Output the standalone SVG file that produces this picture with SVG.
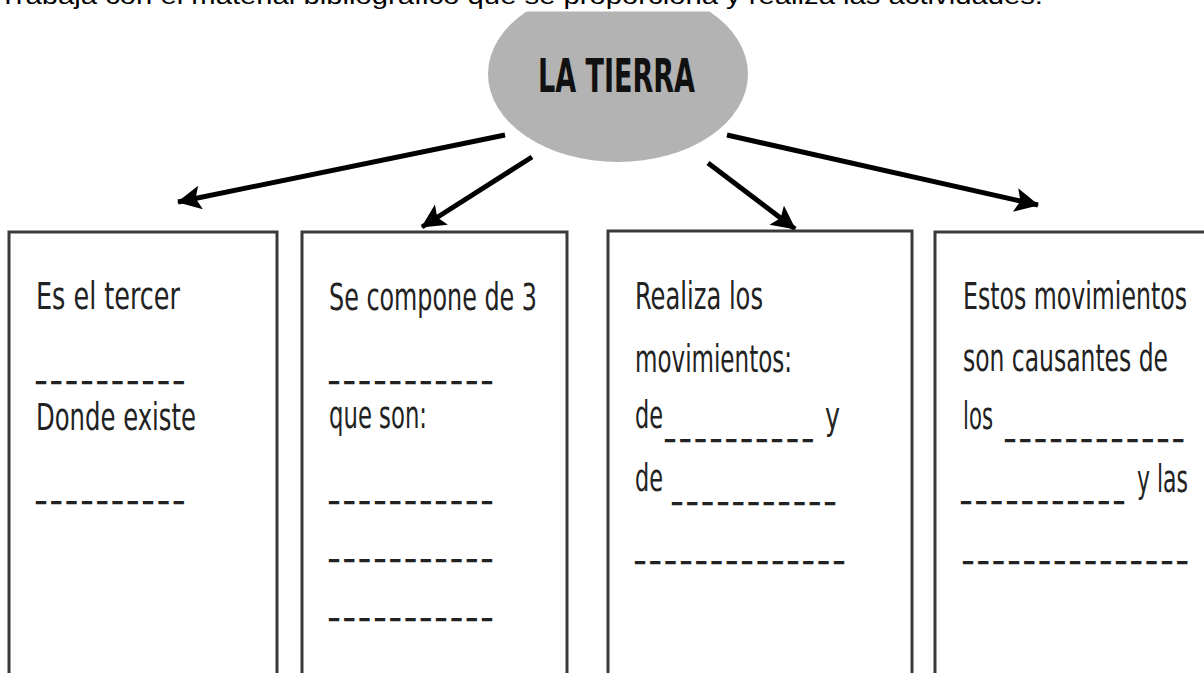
<svg xmlns="http://www.w3.org/2000/svg" width="1204" height="673" viewBox="0 0 1204 673">
<style>
.t{font-family:"DejaVu Sans Condensed","DejaVu Sans",sans-serif;font-size:37px;fill:#222}
.u{font-family:"DejaVu Sans",sans-serif;font-size:16px;fill:#222;stroke:#222;stroke-width:2;letter-spacing:7.3px}
.box{fill:#fff;stroke:#3a3a3a;stroke-width:3}
.arr{stroke:#000;stroke-width:5;fill:none;marker-end:url(#ah)}
</style>
<defs>
<marker id="ah" markerUnits="userSpaceOnUse" markerWidth="28" markerHeight="26" refX="23" refY="12" orient="auto">
<path d="M0,0 L24,12 L0,24 L5,12 Z" fill="#000"/>
</marker>
</defs>
<rect width="1204" height="673" fill="#fff"/>
<g id="root">
<ellipse cx="618" cy="74" rx="130" ry="88" fill="#b3b3b3"/>
<rect x="0" y="0" width="1204" height="11.5" fill="#fff"/>
<text x="538" y="92" textLength="157" lengthAdjust="spacingAndGlyphs" style="font-family:'DejaVu Sans Condensed','DejaVu Sans',sans-serif;font-weight:bold;font-size:46px;fill:#111">LA TIERRA</text>
</g>
<text x="-1" y="4" textLength="1044" lengthAdjust="spacingAndGlyphs" style="font-family:'Liberation Sans',Arial,sans-serif;font-size:23px;fill:#000">Trabaja con el material bibliográfico que se proporciona y realiza las actividades.</text>
<g id="connectors">
<line class="arr" x1="505" y1="135" x2="178" y2="202"/>
<line class="arr" x1="532" y1="157" x2="422" y2="227"/>
<line class="arr" x1="708" y1="163" x2="795" y2="229"/>
<line class="arr" x1="727" y1="135" x2="1038" y2="205"/>
</g>
<g id="box1">
<rect class="box" x="9" y="232" width="268" height="460"/>
<text class="t" x="36" y="309" textLength="144" lengthAdjust="spacingAndGlyphs">Es el tercer</text>
<text class="u" x="37" y="378.6">__________</text>
<text class="t" x="36" y="430" textLength="160" lengthAdjust="spacingAndGlyphs">Donde existe</text>
<text class="u" x="37" y="498.6">__________</text>
</g>
<g id="box2">
<rect class="box" x="302" y="232" width="265" height="460"/>
<text class="t" x="329" y="310" textLength="208" lengthAdjust="spacingAndGlyphs">Se compone de 3</text>
<text class="u" x="330" y="378.6">___________</text>
<text class="t" x="329" y="428" textLength="98" lengthAdjust="spacingAndGlyphs">que son:</text>
<text class="u" x="330" y="498.6">___________</text>
<text class="u" x="330" y="556.6">___________</text>
<text class="u" x="330" y="615.6">___________</text>
</g>
<g id="box3">
<rect class="box" x="608" y="231" width="304" height="460"/>
<text class="t" x="635" y="309" textLength="128" lengthAdjust="spacingAndGlyphs">Realiza los</text>
<text class="t" x="635" y="372" textLength="157" lengthAdjust="spacingAndGlyphs">movimientos:</text>
<text class="t" x="635" y="428" textLength="28" lengthAdjust="spacingAndGlyphs">de</text>
<text class="u" x="666" y="436.6">__________</text>
<text class="t" x="825" y="429" textLength="15" lengthAdjust="spacingAndGlyphs">y</text>
<text class="t" x="635" y="491" textLength="28" lengthAdjust="spacingAndGlyphs">de</text>
<text class="u" x="673" y="499.6">___________</text>
<text class="u" x="636" y="558.6">______________</text>
</g>
<g id="box4">
<rect class="box" x="935" y="232" width="275" height="460"/>
<text class="t" transform="translate(963,309) scale(0.75,1)" x="0" y="0" textLength="298.7" lengthAdjust="spacingAndGlyphs">Estos movimientos</text>
<text class="t" transform="translate(963,371) scale(0.75,1)" x="0" y="0" textLength="273.3" lengthAdjust="spacingAndGlyphs">son causantes de</text>
<text class="t" x="963" y="429" textLength="30" lengthAdjust="spacingAndGlyphs">los</text>
<text class="u" x="1006" y="436.6">____________</text>
<text class="u" x="962" y="498.6">___________</text>
<text class="t" transform="translate(1137,492) scale(0.75,1)" x="0" y="0" textLength="68" lengthAdjust="spacingAndGlyphs">y las</text>
<text class="u" x="964" y="558.6">_______________</text>
</g>
</svg>
